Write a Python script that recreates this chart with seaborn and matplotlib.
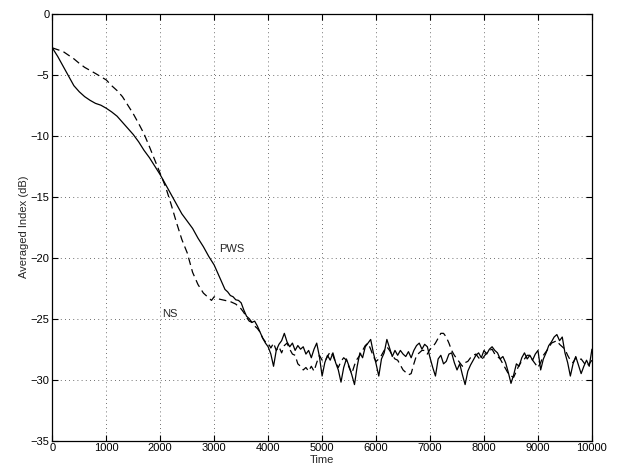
import numpy as np
import pandas as pd
import matplotlib
matplotlib.use("Agg")
import matplotlib.pyplot as plt
import seaborn as sns

# ---- data ----
pws_t_early = [0, 100, 200, 300, 400, 500, 600, 700, 800, 900, 1000, 1100, 1200, 1300,
               1400, 1500, 1600, 1700, 1800, 1900, 2000, 2100, 2200, 2300, 2400, 2500,
               2600, 2700, 2800, 2900, 3000, 3100, 3150, 3200, 3250, 3300, 3350, 3400,
               3450, 3500, 3550, 3600, 3650, 3700, 3750, 3800, 3850, 3900, 3950]
pws_v_early = [-2.8, -3.5, -4.3, -5.1, -5.9, -6.4, -6.8, -7.1, -7.35, -7.5, -7.75, -8.05,
               -8.4, -8.9, -9.4, -9.9, -10.5, -11.2, -11.8, -12.5, -13.2, -14.0, -14.8,
               -15.6, -16.4, -17.0, -17.6, -18.4, -19.1, -19.9, -20.6, -21.6, -22.1, -22.6,
               -22.8, -23.1, -23.2, -23.45, -23.5, -23.7, -24.3, -24.8, -25.0, -25.3,
               -25.2, -25.6, -26.1, -26.6, -27.0]

ns_t_early = [0, 200, 400, 500, 600, 800, 1000, 1100, 1200, 1300, 1400, 1500, 1600, 1700,
              1800, 1900, 2000, 2100, 2200, 2300, 2400, 2500, 2600, 2700, 2800, 2900, 2950,
              3000, 3050, 3100, 3200, 3300, 3350, 3400, 3450, 3500, 3550, 3600, 3650, 3700,
              3750, 3800, 3850, 3900, 3950]
ns_v_early = [-2.8, -3.1, -3.7, -4.07, -4.4, -4.9, -5.43, -5.9, -6.3, -6.8, -7.5, -8.2,
              -9.0, -9.85, -10.9, -12.0, -13.1, -14.2, -15.6, -17.1, -18.5, -19.6, -21.2,
              -22.2, -22.9, -23.3, -23.5, -23.2, -23.3, -23.4, -23.5, -23.6, -23.7, -23.8,
              -24.0, -24.2, -24.5, -24.9, -25.2, -25.3, -25.6, -25.8, -26.1, -26.6, -26.9]

late_t = list(range(4000, 10001, 50))
pws_v_late = [-27.3, -27.9, -28.9, -27.6, -27.1, -26.8, -26.2, -26.9, -27.3, -27.0, -27.6,
              -27.2, -27.5, -27.3, -27.9, -27.6, -28.2, -27.5, -27.0, -28.1, -29.7, -28.6,
              -28.0, -28.4, -27.8, -28.6, -29.2, -30.2, -29.0, -28.3, -28.9, -29.6, -30.4,
              -28.9, -27.8, -28.2, -27.3, -27.0, -26.7, -27.8, -28.7, -29.7, -28.3, -27.8,
              -26.7, -27.4, -28.1, -27.6, -28.0, -27.6, -27.9, -28.1, -27.7, -28.2, -27.6,
              -27.2, -27.0, -27.5, -27.1, -27.3, -28.2, -29.0, -29.7, -28.3, -28.0, -28.7,
              -28.5, -27.9, -27.8, -28.6, -29.2, -28.7, -29.6, -30.4, -29.3, -28.8, -28.4,
              -28.0, -27.8, -28.2, -27.6, -27.9, -27.5, -27.3, -27.6, -27.8, -28.3, -28.1,
              -28.6, -29.4, -30.3, -29.6, -28.7, -28.9, -28.2, -27.8, -28.3, -28.0, -28.4,
              -27.9, -27.6, -29.2, -28.3, -27.8, -27.2, -26.9, -26.5, -26.3, -26.8, -26.5,
              -27.8, -28.6, -29.7, -28.7, -28.1, -28.8, -29.5, -28.9, -28.4, -28.9, -27.5]
ns_v_late = [-27.0, -27.4, -27.0, -27.6, -27.3, -27.8, -27.2, -27.0, -27.5, -27.9, -28.0,
             -28.7, -28.9, -29.2, -29.0, -29.3, -28.9, -29.3, -28.6, -28.0, -28.4, -28.5,
             -28.1, -27.7, -28.0, -28.6, -29.0, -28.5, -28.2, -28.4, -29.0, -29.5, -28.8,
             -28.3, -28.0, -27.6, -27.2, -27.0, -27.5, -28.1, -28.5, -28.3, -28.0, -27.6,
             -27.3, -27.6, -28.0, -28.3, -28.4, -28.8, -29.2, -29.4, -29.6, -29.5, -28.7,
             -28.0, -27.8, -27.6, -27.6, -27.9, -27.5, -27.3, -27.0, -26.6, -26.2, -26.2,
             -26.5, -27.0, -27.6, -28.0, -28.3, -28.6, -28.9, -28.6, -28.5, -28.2, -28.0,
             -27.9, -28.2, -28.4, -28.1, -27.8, -27.6, -27.5, -27.9, -28.1, -28.3, -28.7,
             -29.1, -29.5, -29.7, -29.8, -29.3, -28.8, -28.5, -28.3, -28.0, -28.0, -28.4,
             -28.7, -29.0, -28.6, -28.0, -27.7, -27.4, -27.0, -26.9, -26.8, -27.1, -27.3,
             -27.5, -28.0, -28.4, -28.6, -28.2, -28.4, -28.3, -28.6, -28.9, -28.7, -28.4]

x_ticks = [0, 1000, 2000, 3000, 4000, 5000, 6000, 7000, 8000, 9000, 10000]
y_ticks = [-35, -30, -25, -20, -15, -10, -5, 0]

pws = pd.DataFrame({"Time": pws_t_early + late_t, "Index": pws_v_early + pws_v_late})
ns = pd.DataFrame({"Time": ns_t_early + late_t, "Index": ns_v_early + ns_v_late})

# ---- plot ----
sns.set_style("ticks")
plt.rcParams["font.family"] = ["Liberation Sans", "DejaVu Sans"]

fig = plt.figure(figsize=(6.21, 4.72), dpi=100)
ax = fig.add_axes([0.0842, 0.0663, 0.869, 0.9047])

sns.lineplot(data=ns, x="Time", y="Index", ax=ax, color="black", lw=0.9,
             linestyle=(0, (6, 3.5)), sort=False, estimator=None)
sns.lineplot(data=pws, x="Time", y="Index", ax=ax, color="black", lw=0.9,
             sort=False, estimator=None)

ax.set_xlim(0, 10000)
ax.set_ylim(-35, 0)
ax.set_xticks(x_ticks)
ax.set_yticks(y_ticks)
ax.set_xticklabels([str(v) for v in x_ticks])
ax.set_yticklabels([str(v).replace("-", "\u2212") for v in y_ticks])
ax.grid(True, linestyle=(0, (1, 4)), color="0.25", lw=0.6)
ax.tick_params(direction="in", length=4, width=0.8, labelsize=8, colors="black",
               top=True, right=True, pad=2)
for s in ax.spines.values():
    s.set_visible(True)
    s.set_color("black")
    s.set_linewidth(0.9)

ax.set_xlabel("Time", fontsize=8, labelpad=1)
ax.set_ylabel("Averaged Index (dB)", fontsize=8, labelpad=1)

ax.text(3090, -19.3, "PWS", fontsize=8, va="center", ha="left")
ax.text(2030, -24.6, "NS", fontsize=8, va="center", ha="left")

fig.savefig("out.png", dpi=100)
